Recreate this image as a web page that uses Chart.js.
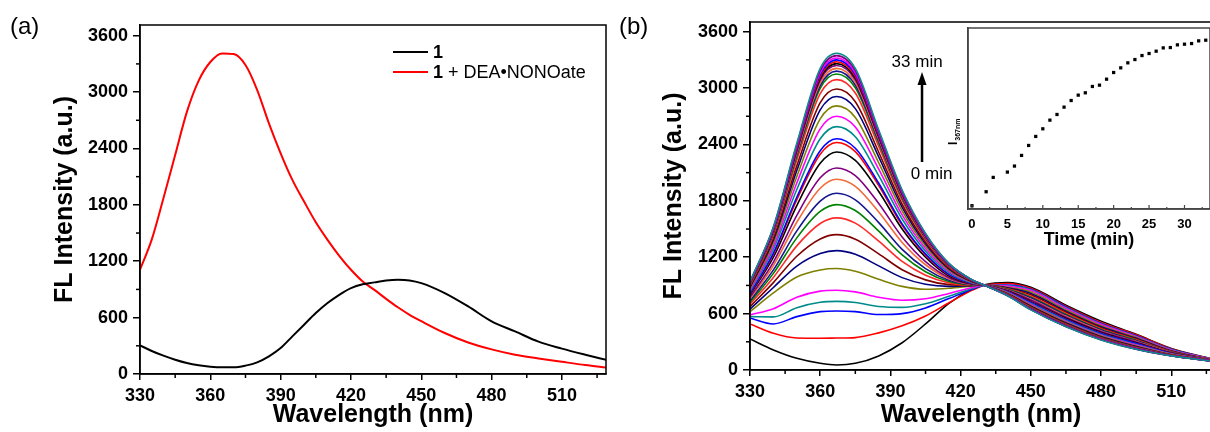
<!DOCTYPE html>
<html>
<head>
<meta charset="utf-8">
<script src="https://cdn.jsdelivr.net/npm/chart.js@4.4.0/dist/chart.umd.min.js"></script>
<style>
  html, body { margin: 0; padding: 0; background: #fff; overflow: hidden; }
  #wrap { position: relative; width: 1210px; height: 432px; overflow: hidden; }
  canvas { position: absolute; top: 0; }
</style>
</head>
<body>
<div id="wrap">
  <canvas id="chartA" width="608" height="432" style="left:0"></canvas>
  <canvas id="chartB" width="602" height="432" style="left:610px"></canvas>
  <canvas id="inset" width="314" height="256" style="left:900px"></canvas>
</div>
<script>
// ---- data ----
const FONT = "'Liberation Sans', Arial, sans-serif";

// panel (a)
const wavelengthsA = [330, 335, 340, 345, 350, 355, 360, 365, 370, 375, 380, 385, 390, 395, 400,
  405, 410, 415, 420, 425, 430, 435, 440, 445, 450, 460, 470, 480, 490, 500, 510, 520, 529];
const probe = [305, 245, 195, 152, 117, 93, 78, 71, 71, 89, 124, 188, 276, 400, 524,
  648, 755, 843, 914, 955, 975, 995, 1003, 996, 967, 861, 719, 560, 454, 344, 270, 205, 150];
const probeNO = [1110, 1430, 1870, 2330, 2790, 3120, 3320, 3412, 3405, 3288, 3022, 2668, 2349, 2066, 1835,
  1615, 1428, 1258, 1109, 985, 895, 800, 710, 630, 562, 436, 335, 262, 205, 166, 130, 95, 68];
const legendA = ['1', '1 + DEA\u2022NONOate'];

// panel (b): one spectrum per time point
const wavelengthsB = [330, 340, 350, 360, 367, 375, 385, 395, 405, 415, 425, 430, 440, 450, 465, 480, 495, 510, 527];
const timesB = [0, 2, 3, 5, 6, 7, 8, 9, 10, 11, 12, 13, 14, 15, 16, 17, 18, 19, 20, 21, 22, 23, 24, 25, 26, 27, 28, 29, 30, 31, 32, 33];
const spectraB = [
  [330, 213, 124, 71, 53, 71, 150, 290, 490, 710, 860, 905, 930, 880, 690, 520, 380, 230, 120],
  [490, 390, 340, 338, 340, 345, 395, 470, 575, 715, 850, 900, 920, 870, 680, 505, 375, 225, 120],
  [553, 490, 568, 621, 628, 621, 590, 600, 660, 760, 860, 900, 905, 860, 670, 495, 365, 220, 118],
  [568, 565, 663, 721, 730, 718, 675, 666, 705, 785, 868, 901, 899, 853, 663, 489, 360, 217, 117],
  [586, 652, 775, 839, 849, 831, 774, 742, 758, 814, 877, 902, 893, 845, 655, 483, 355, 213, 115],
  [621, 820, 990, 1065, 1080, 1050, 965, 890, 860, 870, 895, 905, 880, 830, 640, 470, 345, 205, 112],
  [648, 878, 1106, 1239, 1270, 1231, 1108, 983, 912, 890, 898, 905, 874, 815, 626, 459, 337, 201, 111],
  [673, 930, 1210, 1394, 1440, 1392, 1236, 1067, 959, 908, 901, 904, 868, 801, 614, 450, 329, 198, 110],
  [699, 985, 1321, 1559, 1619, 1563, 1372, 1155, 1008, 927, 904, 904, 863, 786, 601, 440, 321, 194, 109],
  [719, 1028, 1406, 1687, 1760, 1697, 1477, 1224, 1046, 941, 906, 904, 858, 775, 591, 432, 315, 191, 108],
  [736, 1065, 1480, 1797, 1880, 1811, 1568, 1283, 1079, 954, 908, 904, 854, 765, 582, 425, 310, 189, 107],
  [758, 1111, 1572, 1934, 2030, 1954, 1681, 1357, 1120, 970, 910, 903, 849, 753, 571, 416, 303, 186, 107],
  [775, 1148, 1646, 2045, 2150, 2068, 1772, 1416, 1153, 982, 912, 903, 845, 744, 562, 410, 298, 183, 106],
  [800, 1200, 1750, 2200, 2320, 2230, 1900, 1500, 1200, 1000, 915, 903, 840, 730, 550, 400, 290, 180, 105],
  [813, 1231, 1813, 2296, 2420, 2323, 1962, 1539, 1224, 1013, 919, 903, 835, 721, 541, 392, 283, 177, 104],
  [819, 1243, 1838, 2334, 2460, 2360, 1987, 1555, 1234, 1018, 921, 903, 833, 718, 538, 389, 281, 176, 104],
  [836, 1284, 1920, 2460, 2590, 2482, 2068, 1607, 1265, 1035, 926, 903, 827, 707, 527, 379, 272, 172, 102],
  [851, 1318, 1990, 2566, 2700, 2585, 2137, 1650, 1292, 1049, 931, 903, 822, 697, 517, 371, 265, 169, 101],
  [865, 1352, 2059, 2672, 2810, 2688, 2205, 1694, 1319, 1063, 935, 903, 817, 688, 508, 363, 257, 166, 100],
  [879, 1383, 2122, 2768, 2910, 2781, 2268, 1733, 1343, 1076, 939, 903, 812, 679, 499, 355, 251, 163, 99],
  [889, 1407, 2172, 2844, 2990, 2855, 2317, 1765, 1362, 1086, 942, 904, 808, 673, 493, 349, 245, 161, 99],
  [903, 1438, 2235, 2940, 3090, 2948, 2379, 1804, 1386, 1099, 947, 904, 803, 664, 484, 341, 239, 158, 98],
  [911, 1457, 2273, 2998, 3150, 3004, 2417, 1828, 1401, 1107, 949, 904, 800, 659, 479, 337, 235, 156, 97],
  [915, 1466, 2292, 3027, 3180, 3033, 2436, 1840, 1408, 1111, 950, 904, 799, 656, 476, 334, 233, 155, 97],
  [919, 1476, 2311, 3056, 3210, 3061, 2455, 1852, 1415, 1114, 951, 904, 798, 654, 474, 332, 231, 155, 97],
  [923, 1485, 2330, 3085, 3240, 3088, 2473, 1864, 1422, 1118, 953, 904, 796, 651, 471, 330, 229, 154, 96],
  [925, 1491, 2342, 3104, 3260, 3107, 2485, 1871, 1427, 1121, 953, 904, 795, 649, 469, 328, 227, 153, 96],
  [928, 1497, 2355, 3123, 3280, 3126, 2498, 1879, 1432, 1123, 954, 904, 794, 648, 468, 327, 226, 153, 96],
  [931, 1503, 2368, 3142, 3300, 3144, 2510, 1887, 1437, 1126, 955, 904, 793, 646, 466, 325, 225, 152, 96],
  [933, 1509, 2380, 3162, 3320, 3163, 2523, 1895, 1442, 1129, 956, 904, 792, 644, 464, 324, 223, 151, 95],
  [937, 1517, 2396, 3186, 3345, 3186, 2538, 1905, 1448, 1132, 957, 904, 791, 642, 462, 322, 222, 151, 95],
  [940, 1525, 2412, 3210, 3370, 3210, 2554, 1915, 1454, 1135, 958, 904, 790, 640, 460, 320, 220, 150, 95]
];
const colorsB = ['#000000', '#ff0000', '#0000ff', '#008b8b', '#ff00ff', '#808000', '#000080', '#800000',
  '#ff2a2a', '#008000', '#16168f', '#f26b3a', '#800080', '#000000', '#ff0000', '#0000ff',
  '#008b8b', '#ff00ff', '#808000', '#000080', '#800000', '#ff2a2a', '#008000', '#16168f',
  '#f26b3a', '#800080', '#000000', '#ff0000', '#0000ff', '#ff00ff', '#800080', '#0e8c8c'];

// inset: intensity at 367 nm vs time
const insetTimes = timesB;
const insetI367 = [60, 336, 619, 724, 843, 1053, 1250, 1428, 1579, 1750, 1862, 2007, 2138, 2244, 2290, 2415,
  2441, 2559, 2691, 2783, 2882, 2947, 3026, 3066, 3112, 3177, 3184, 3237, 3250, 3263, 3316, 3329];

// ticks
const xTicks = [330, 360, 390, 420, 450, 480, 510];
const yTicks = [0, 600, 1200, 1800, 2400, 3000, 3600];
const insetTicks = [0, 5, 10, 15, 20, 25, 30];

// ---- plugins ----
const frame = {
  id: 'frame',
  afterDraw(chart, args, opts) {
    const { ctx, chartArea: a } = chart;
    ctx.save();
    ctx.strokeStyle = opts.color || '#000';
    ctx.lineWidth = opts.width || 1.5;
    ctx.strokeRect(a.left, a.top, a.right - a.left, a.bottom - a.top);
    ctx.restore();
  }
};

// minor (and optional inside major) tick marks
const minorTicks = {
  id: 'minorTicks',
  afterDraw(chart, args, opts) {
    const { ctx, scales } = chart;
    ctx.save();
    ctx.strokeStyle = opts.color || '#000';
    ctx.lineWidth = opts.width || 1.5;
    (opts.axes || ['x', 'y']).forEach(function(id) {
      const s = scales[id];
      const t = s.ticks.map(k => k.value);
      const step = t[1] - t[0];
      const marks = [];
      for (let v = t[0] - step / 2; v <= s.max; v += step / 2) {
        if (v < s.min) continue;
        const major = t.indexOf(v) >= 0;
        if (major && !opts.inside) continue;
        marks.push([v, major ? opts.majorLen : opts.len]);
      }
      marks.forEach(function(m) {
        const p = s.getPixelForValue(m[0]);
        const dir = opts.inside ? -1 : 1;
        ctx.beginPath();
        if (id === 'x') {
          const y0 = chart.chartArea.bottom;
          ctx.moveTo(p, y0);
          ctx.lineTo(p, y0 + dir * m[1]);
        } else {
          const x0 = chart.chartArea.left;
          ctx.moveTo(x0, p);
          ctx.lineTo(x0 - dir * m[1], p);
        }
        ctx.stroke();
      });
    });
    ctx.restore();
  }
};

const panelLabel = {
  id: 'panelLabel',
  afterDraw(chart, args, opts) {
    const ctx = chart.ctx;
    ctx.save();
    ctx.fillStyle = '#000';
    ctx.font = '24px ' + FONT;
    ctx.textBaseline = 'middle';
    ctx.fillText(opts.text, opts.x, 27);
    ctx.restore();
  }
};

const legendBox = {
  id: 'legendBox',
  afterDraw(chart) {
    const ctx = chart.ctx;
    ctx.save();
    ctx.textBaseline = 'middle';
    chart.data.datasets.forEach(function(ds, i) {
      const y = 52 + i * 20;
      ctx.strokeStyle = ds.borderColor;
      ctx.lineWidth = 2;
      ctx.beginPath();
      ctx.moveTo(393, y);
      ctx.lineTo(428, y);
      ctx.stroke();
      ctx.fillStyle = '#000';
      ctx.font = 'bold 18px ' + FONT;
      ctx.fillText('1', 433, y + 1);
      const rest = legendA[i].slice(1);
      if (rest) {
        const w = ctx.measureText('1').width;
        ctx.font = '18px ' + FONT;
        ctx.fillText(rest, 433 + w, y + 1);
      }
    });
    ctx.restore();
  }
};

const timeArrow = {
  id: 'timeArrow',
  afterDraw(chart) {
    const { ctx, scales: { x, y } } = chart;
    const ax = x.getPixelForValue(403.5);
    const tail = y.getPixelForValue(2213);
    const tip = y.getPixelForValue(3171);
    ctx.save();
    ctx.strokeStyle = '#000';
    ctx.fillStyle = '#000';
    ctx.lineWidth = 2.5;
    ctx.beginPath();
    ctx.moveTo(ax, tail);
    ctx.lineTo(ax, tip + 10);
    ctx.stroke();
    ctx.beginPath();
    ctx.moveTo(ax, tip);
    ctx.lineTo(ax - 4.5, tip + 13);
    ctx.lineTo(ax + 4.5, tip + 13);
    ctx.closePath();
    ctx.fill();
    ctx.font = '17px ' + FONT;
    ctx.textAlign = 'center';
    ctx.textBaseline = 'middle';
    ctx.fillText('33 min', x.getPixelForValue(401.4), y.getPixelForValue(3278));
    ctx.fillText('0 min', x.getPixelForValue(407.6), y.getPixelForValue(2086));
    ctx.restore();
  }
};

const insetYTitle = {
  id: 'insetYTitle',
  afterDraw(chart) {
    const ctx = chart.ctx;
    ctx.save();
    ctx.fillStyle = '#000';
    ctx.translate(57, 145);
    ctx.rotate(-Math.PI / 2);
    ctx.font = 'bold 12px ' + FONT;
    ctx.fillText('I', 0, 0);
    const w = ctx.measureText('I').width;
    ctx.font = 'bold 7px ' + FONT;
    ctx.fillText('367nm', w + 1, 3);
    ctx.restore();
  }
};

// ---- shared axis helpers ----
function bold(size) { return { family: FONT, size: size, weight: 'bold' }; }
function plain(v) { return String(v); }

function xAxis(max, height) {
  return {
    type: 'linear', min: 330, max: max,
    afterBuildTicks: s => { s.ticks = xTicks.map(v => ({ value: v })); },
    afterFit: s => { s.height = height; },
    ticks: { font: bold(18), color: '#000', padding: 5, autoSkip: false, maxRotation: 0, callback: plain },
    grid: { drawOnChartArea: false, drawTicks: true, tickLength: 6, color: '#000', lineWidth: 1.5 },
    border: { display: true, color: '#000', width: 1.5 },
    title: { display: true, text: 'Wavelength (nm)', font: bold(25), color: '#000', padding: { top: 0, bottom: 2 } }
  };
}

function yAxis(max, titlePad) {
  return {
    min: 0, max: max,
    afterBuildTicks: s => { s.ticks = yTicks.map(v => ({ value: v })); },
    afterFit: s => { s.width = 140; },
    ticks: { font: bold(18), color: '#000', padding: 5, callback: plain },
    grid: { drawOnChartArea: false, drawTicks: true, tickLength: 7, color: '#000', lineWidth: 1.5 },
    border: { display: true, color: '#000', width: 1.5 },
    title: { display: true, text: 'FL Intensity (a.u.)', font: bold(25), color: '#000', padding: { top: titlePad, bottom: 0 } }
  };
}

const baseOptions = {
  responsive: false,
  animation: false,
  events: [],
  elements: { point: { radius: 0 } }
};

// ---- panel (a) ----
new Chart(document.getElementById('chartA'), {
  type: 'line',
  data: {
    datasets: [
      { label: legendA[0], data: wavelengthsA.map((w, i) => ({ x: w, y: probe[i] })),
        borderColor: '#000', borderWidth: 2, cubicInterpolationMode: 'monotone' },
      { label: legendA[1], data: wavelengthsA.map((w, i) => ({ x: w, y: probeNO[i] })),
        borderColor: '#ff0000', borderWidth: 2, cubicInterpolationMode: 'monotone' }
    ]
  },
  options: Object.assign({}, baseOptions, {
    layout: { padding: { top: 25, right: 2, left: 0, bottom: 0 } },
    plugins: {
      legend: { display: false }, tooltip: { enabled: false },
      minorTicks: { len: 4, majorLen: 7 },
      panelLabel: { text: '(a)', x: 10 }
    },
    scales: { x: xAxis(528.8, 58), y: yAxis(3714, 50) }
  }),
  plugins: [frame, minorTicks, legendBox, panelLabel]
});

// ---- panel (b) ----
new Chart(document.getElementById('chartB'), {
  type: 'line',
  data: {
    datasets: spectraB.map((row, k) => ({
      label: timesB[k] + ' min',
      data: wavelengthsB.map((w, i) => ({ x: w, y: row[i] })),
      borderColor: colorsB[k],
      borderWidth: 1.6,
      cubicInterpolationMode: 'monotone',
      order: spectraB.length - k
    }))
  },
  options: Object.assign({}, baseOptions, {
    layout: { padding: { top: 22, right: 0, left: 0, bottom: 0 } },
    plugins: {
      legend: { display: false }, tooltip: { enabled: false },
      minorTicks: { len: 4, majorLen: 7 },
      panelLabel: { text: '(b)', x: 9 }
    },
    scales: { x: xAxis(527.4, 62), y: yAxis(3703, 49) }
  }),
  plugins: [frame, minorTicks, timeArrow, panelLabel]
});

// ---- inset ----
new Chart(document.getElementById('inset'), {
  type: 'scatter',
  data: {
    datasets: [{
      data: insetTimes.map((t, i) => ({ x: t, y: insetI367[i] })),
      pointStyle: 'rect', pointRadius: 2.3, backgroundColor: '#000', borderWidth: 0
    }]
  },
  options: Object.assign({}, baseOptions, {
    layout: { padding: { top: 28, right: 0, left: 0, bottom: 0 } },
    plugins: {
      legend: { display: false }, tooltip: { enabled: false },
      frame: { color: '#444', width: 1.5 },
      minorTicks: { axes: ['x'], inside: true, len: 2, majorLen: 4, color: '#444', width: 1.2 }
    },
    scales: {
      x: {
        type: 'linear', min: -0.56, max: 33.6,
        afterBuildTicks: s => { s.ticks = insetTicks.map(v => ({ value: v })); },
        afterFit: s => { s.height = 47; },
        ticks: { font: bold(13), color: '#000', padding: 0, autoSkip: false, maxRotation: 0, callback: plain },
        grid: { display: false },
        border: { display: true, color: '#444', width: 1.5 },
        title: { display: true, text: 'Time (min)', font: bold(18), color: '#000', padding: { top: 0, bottom: 5 } }
      },
      y: {
        min: -5, max: 3570,
        afterFit: s => { s.width = 68; },
        ticks: { display: false },
        grid: { display: false },
        border: { display: true, color: '#444', width: 1.5 }
      }
    }
  }),
  plugins: [frame, minorTicks, insetYTitle]
});
</script>
</body>
</html>
